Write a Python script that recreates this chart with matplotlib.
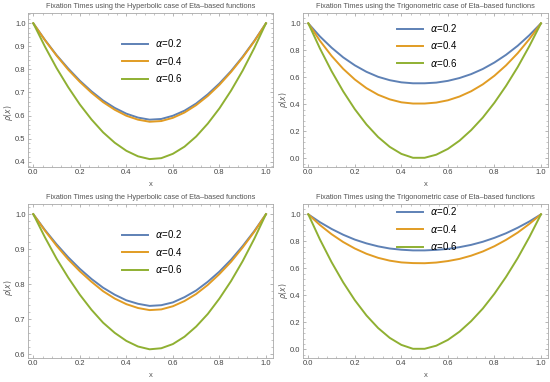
import numpy as np
import matplotlib.pyplot as plt
from matplotlib.ticker import MultipleLocator, AutoMinorLocator

plt.rcParams['font.family'] = ['Liberation Sans', 'DejaVu Sans']
plt.rcParams['mathtext.fontset'] = 'dejavusans'

# sample positions
x = np.round(np.arange(0, 1.0001, 0.05), 2)
labels = [r'$\alpha$=0.2', r'$\alpha$=0.4', r'$\alpha$=0.6']
colors = ['#5E81B5', '#E19C24', '#8FB032']

# Hyperbolic case (top)
hyp1_a02 = [1.000, 0.928, 0.862, 0.804, 0.751, 0.705, 0.665, 0.633, 0.608, 0.591, 0.582,
            0.585, 0.599, 0.621, 0.652, 0.692, 0.739, 0.793, 0.855, 0.924, 1.000]
hyp1_a04 = [1.000, 0.927, 0.860, 0.799, 0.746, 0.699, 0.658, 0.625, 0.599, 0.582, 0.573,
            0.576, 0.590, 0.613, 0.645, 0.685, 0.733, 0.789, 0.852, 0.922, 1.000]
hyp1_a06 = [1.000, 0.899, 0.806, 0.723, 0.648, 0.583, 0.527, 0.482, 0.447, 0.423, 0.411,
            0.415, 0.434, 0.465, 0.509, 0.565, 0.631, 0.708, 0.795, 0.893, 1.000]

# Trigonometric case (top)
trig1_a02 = [1.000, 0.903, 0.820, 0.748, 0.689, 0.641, 0.604, 0.579, 0.563, 0.556, 0.556,
             0.561, 0.574, 0.595, 0.624, 0.662, 0.710, 0.767, 0.834, 0.912, 1.000]
trig1_a04 = [1.000, 0.871, 0.759, 0.663, 0.584, 0.520, 0.471, 0.437, 0.415, 0.406, 0.406,
             0.413, 0.430, 0.458, 0.497, 0.548, 0.612, 0.689, 0.779, 0.883, 1.000]
trig1_a06 = [1.000, 0.814, 0.646, 0.496, 0.364, 0.251, 0.158, 0.085, 0.033, 0.004, 0.004,
             0.027, 0.070, 0.131, 0.209, 0.302, 0.412, 0.537, 0.676, 0.831, 1.000]

# Hyperbolic case (bottom)
hyp2_a02 = [1.000, 0.955, 0.914, 0.877, 0.844, 0.815, 0.790, 0.770, 0.754, 0.744, 0.738,
            0.740, 0.748, 0.763, 0.782, 0.807, 0.836, 0.870, 0.909, 0.952, 1.000]
hyp2_a04 = [1.000, 0.953, 0.910, 0.871, 0.837, 0.807, 0.780, 0.759, 0.743, 0.732, 0.726,
            0.728, 0.737, 0.752, 0.772, 0.798, 0.829, 0.864, 0.905, 0.950, 1.000]
hyp2_a06 = [1.000, 0.934, 0.873, 0.819, 0.770, 0.727, 0.690, 0.661, 0.638, 0.622, 0.614,
            0.617, 0.629, 0.650, 0.679, 0.715, 0.759, 0.809, 0.866, 0.930, 1.000]

# Trigonometric case (bottom)
trig2_a02 = [1.000, 0.942, 0.892, 0.849, 0.813, 0.785, 0.763, 0.747, 0.738, 0.733, 0.733,
             0.737, 0.744, 0.757, 0.774, 0.797, 0.826, 0.860, 0.901, 0.947, 1.000]
trig2_a04 = [1.000, 0.921, 0.853, 0.795, 0.747, 0.708, 0.678, 0.657, 0.644, 0.639, 0.638,
             0.643, 0.654, 0.670, 0.694, 0.725, 0.764, 0.811, 0.865, 0.929, 1.000]
trig2_a06 = [1.000, 0.814, 0.646, 0.496, 0.364, 0.251, 0.158, 0.085, 0.033, 0.004, 0.004,
             0.027, 0.070, 0.131, 0.209, 0.302, 0.412, 0.537, 0.676, 0.831, 1.000]

title_h = 'Fixation Times using the Hyperbolic case of Eta\u2013based functions'
title_t = 'Fixation Times using the Trigonometric case of Eta\u2013based functions'

panels = [
    (title_h, [hyp1_a02, hyp1_a04, hyp1_a06], (0.378, 1.046), 0.1, 0.84, 0.349),
    (title_t, [trig1_a02, trig1_a04, trig1_a06], (-0.062, 1.079), 0.2, 0.94, 0.433),
    (title_h, [hyp2_a02, hyp2_a04, hyp2_a06], (0.590, 1.030), 0.1, 0.84, 0.453),
    (title_t, [trig2_a02, trig2_a04, trig2_a06], (-0.062, 1.079), 0.2, 0.99, 0.433),
]

fig = plt.figure(figsize=(5.5, 3.82), dpi=100)
W, H = 550, 382
# axes frames in pixel coords: left, top
frames = [(28.3, 12.7), (303.3, 12.7), (28.3, 203.7), (303.3, 203.7)]
aw, ah = 244.4, 154.0

for (title, series, ylim, ystep, leg_y, ylab_y), (fl, ft) in zip(panels, frames):
    ax = fig.add_axes([fl / W, 1 - (ft + ah) / H, aw / W, ah / H])
    for ys, c, lab in zip(series, colors, labels):
        ax.plot(x, ys, color=c, lw=1.4, label=lab)
    ax.set_xlim(-0.0215, 1.029)
    ax.set_ylim(*ylim)
    ax.xaxis.set_major_locator(MultipleLocator(0.2))
    ax.yaxis.set_major_locator(MultipleLocator(ystep))
    ax.xaxis.set_minor_locator(AutoMinorLocator(5))
    ax.yaxis.set_minor_locator(AutoMinorLocator(5))
    ax.xaxis.set_major_formatter(plt.FormatStrFormatter('%.1f'))
    ax.yaxis.set_major_formatter(plt.FormatStrFormatter('%.1f'))
    ax.tick_params(which='both', direction='in', top=True, right=True,
                   color='#999999', labelsize=5.5, labelcolor='#444444', pad=2)
    ax.tick_params(which='major', length=2.5, width=0.5)
    ax.tick_params(which='minor', length=1.3, width=0.4)
    for sp in ax.spines.values():
        sp.set_color('#a8a8a8')
        sp.set_linewidth(0.6)
    ax.text(0.5, 1.043, title, transform=ax.transAxes, ha='center', va='center',
            fontsize=5.3, color='#555555')
    ax.text(0.5, -0.115, 'x', transform=ax.transAxes, ha='center', va='center',
            fontsize=5.5, color='#555555')
    ax.text(-0.08, ylab_y, r'$\rho(x)$', transform=ax.transAxes, ha='center',
            va='center', rotation=90, fontsize=5.5, color='#555555')
    ax.legend(loc='upper left', bbox_to_anchor=(0.383, leg_y), frameon=False,
              fontsize=7, handlelength=2.7, handletextpad=0.7, labelspacing=0.55,
              borderpad=0, borderaxespad=0)

fig.savefig('out.png', dpi=100)
